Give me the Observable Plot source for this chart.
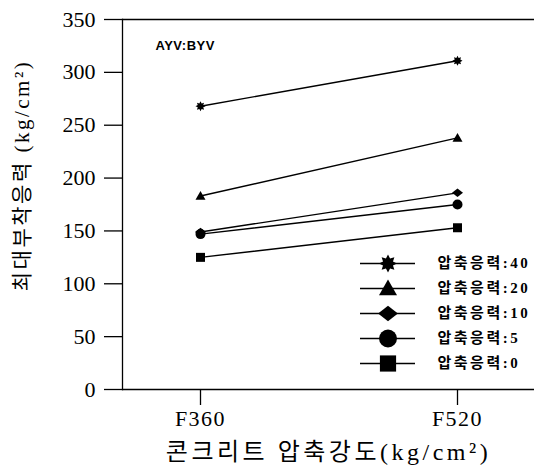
<!DOCTYPE html>
<html>
<head>
<meta charset="utf-8">
<script src="https://cdn.jsdelivr.net/npm/d3@7"></script>
<script src="https://cdn.jsdelivr.net/npm/@observablehq/plot@0.6"></script>
<style>
  html, body { margin: 0; padding: 0; background: #fff; }
  #wrap { position: relative; width: 534px; height: 472px; }
  #legend { position: absolute; left: 358px; top: 240px; }
</style>
</head>
<body>
<div id="wrap"><div id="chart"></div><div id="legend"></div></div>
<script>
// ---- data ----
const strengths = ["F360", "F520"];
const seriesNames = ["압축응력:40", "압축응력:20", "압축응력:10", "압축응력:5", "압축응력:0"];
const s40 = [268, 311];
const s20 = [183, 238];
const s10 = [149, 186];
const s5  = [147, 175];
const s0  = [125, 153];
const yTicks = [0, 50, 100, 150, 200, 250, 300, 350];
const xTitle = "콘크리트 압축강도(kg/cm²)";
const yTitle = "최대부착응력 (kg/cm²)";
const note = "AYV:BYV";

// ---- custom symbols ----
const R = size => Math.sqrt(size / Math.PI);
const starSym = {draw(c, size) {
  const r = R(size), ri = r * 0.6, n = 8;
  for (let i = 0; i < 2 * n; i++) {
    const a = Math.PI * i / n - Math.PI / 2, rr = i % 2 ? ri : r;
    const x = rr * Math.cos(a), y = rr * Math.sin(a);
    i ? c.lineTo(x, y) : c.moveTo(x, y);
  }
  c.closePath();
}};
const triSym = {draw(c, size) {
  const r = R(size);
  c.moveTo(0, -r); c.lineTo(r, 0.75 * r); c.lineTo(-r, 0.75 * r); c.closePath();
}};
const diaSym = {draw(c, size) {
  const r = R(size);
  c.moveTo(0, -0.85 * r); c.lineTo(1.1 * r, 0); c.lineTo(0, 0.85 * r); c.lineTo(-1.1 * r, 0); c.closePath();
}};
const circSym = {draw(c, size) {
  const r = R(size);
  c.moveTo(r, 0); c.arc(0, 0, r, 0, 2 * Math.PI);
}};
const sqSym = {draw(c, size) {
  const h = R(size) * 0.9;
  c.rect(-h, -h, 2 * h, 2 * h);
}};
const symbols = [starSym, triSym, diaSym, circSym, sqSym];
const values = [s40, s20, s10, s5, s0];

const series = seriesNames.map((name, i) => ({
  name, symbol: symbols[i],
  rows: strengths.map((s, j) => ({strength: s, value: values[i][j]}))
}));

const serif = "'Liberation Serif', 'Noto Sans CJK KR', serif";

const chart = Plot.plot({
  width: 534,
  height: 472,
  marginLeft: 122,
  marginRight: 0,
  marginTop: 19,
  marginBottom: 83,
  style: {fontFamily: serif, fontSize: "20px", color: "#000", background: "#fff"},
  x: {type: "point", domain: strengths, padding: 0.3},
  y: {domain: [0, 350]},
  marks: [
    Plot.frame({anchor: "left", stroke: "#000", strokeWidth: 1.3}),
    Plot.ruleY([0, 350], {stroke: "#000", strokeWidth: 1.3}),
    Plot.axisY({ticks: yTicks, tickSize: 18, tickPadding: 9, label: null, fontSize: 22, strokeWidth: 1.3}),
    Plot.axisX({tickSize: 16, tickPadding: 5, label: null, fontSize: 22, strokeWidth: 1.3}),
    ...series.flatMap(s => [
      Plot.line(s.rows, {x: "strength", y: "value", stroke: "#000", strokeWidth: 1.4}),
      Plot.dot(s.rows, {x: "strength", y: "value", symbol: s.symbol, r: 5, fill: "#000", stroke: "none"})
    ]),
    Plot.text([note], {frameAnchor: "top-left", dx: 33, dy: 26, textAnchor: "start", lineAnchor: "middle",
      fontFamily: "'Liberation Sans', Arial, sans-serif", fontWeight: "bold", fontSize: 13}),
    Plot.text([xTitle], {frameAnchor: "bottom", dy: 63, textAnchor: "middle", lineAnchor: "middle", fontSize: 24}),
    Plot.text([yTitle], {frameAnchor: "left", dx: -100, dy: -29, rotate: -90, textAnchor: "middle",
      lineAnchor: "middle", fontSize: 21})
  ]
});
document.getElementById("chart").appendChild(chart);

// ---- legend ----
const legend = Plot.plot({
  width: 176,
  height: 146,
  margin: 0,
  style: {fontFamily: serif, background: "transparent", color: "#000"},
  x: {domain: [0, 1], range: [2, 57], axis: null},
  y: {type: "point", domain: seriesNames, range: [10, 136], axis: null},
  marks: [
    Plot.ruleY(seriesNames, {y: d => d, x1: 0, x2: 1, stroke: "#000", strokeWidth: 1.3}),
    ...series.map(s => Plot.dot([s.name], {x: 0.5, y: d => d, symbol: s.symbol, r: 9, fill: "#000", stroke: "none"})),
    Plot.text(seriesNames, {x: 1, y: d => d, text: d => d, dx: 22, textAnchor: "start", lineAnchor: "middle",
      fontSize: 15, fontWeight: "bold"})
  ]
});
document.getElementById("legend").appendChild(legend);

// letter spacing (post-render styling)
const spacing = new Map([[xTitle, "3.5px"], [yTitle, "2.5px"], [note, "0.5px"], ["F360", "1.5px"], ["F520", "1.5px"]]);
seriesNames.forEach(n => spacing.set(n, "2.5px"));
d3.selectAll("#wrap svg text").each(function() {
  const t = this.textContent;
  if (spacing.has(t)) this.style.letterSpacing = spacing.get(t);
});
</script>
</body>
</html>
